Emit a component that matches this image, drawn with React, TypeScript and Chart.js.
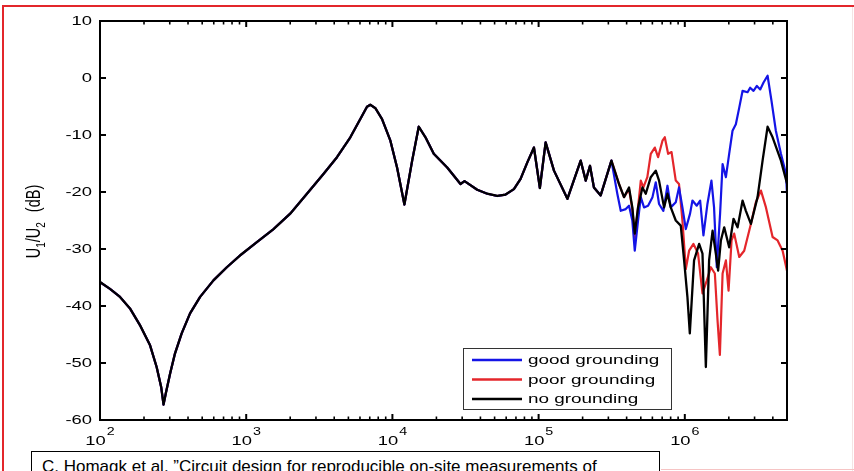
import React, { useEffect, useRef } from "react";
import { Chart, registerables } from "chart.js";

Chart.register(...registerables);

// Frequency response U1/U2 (dB) versus frequency (Hz)
const X_MIN = 100;
const X_MAX = 5e6;
const Y_MIN = -60;
const Y_MAX = 10;
const yTickValues = [10, 0, -10, -20, -30, -40, -50, -60];
const decadeExponents = [2, 3, 4, 5, 6];

// Part of the response that is identical for all three set-ups
const commonFreq = [
  100, 117, 137, 161, 188, 220, 244, 262, 272, 282, 302, 326, 362, 413, 484, 597, 737, 910, 1183, 1538, 2000,
  2603, 3386, 4178, 5155, 6033, 6703, 7066, 7650, 8495, 9686, 10760, 12080, 13650, 15140, 16830, 19180,
  23700, 29220, 31140, 38040, 44570, 52120, 59400, 67780, 75300, 83730, 92940, 102000, 111700, 127400,
  157400, 194000, 210000, 224600, 239000, 265800, 314800,
];
const commonDb = [
  -35.8, -37.0, -38.4, -40.5, -43.4, -46.9, -50.7, -54.2, -57.3, -55.3, -51.8, -48.3, -44.8, -41.3, -38.4,
  -35.5, -33.2, -31.1, -28.8, -26.5, -23.8, -20.3, -16.8, -13.9, -10.4, -7.2, -5.05, -4.7, -5.3, -7.2, -11.0,
  -15.7, -22.2, -14.5, -8.55, -10.4, -13.3, -15.7, -18.6, -18.1, -19.6, -20.3, -20.7, -20.45, -19.5, -17.7,
  -14.8, -12.2, -19.3, -11.3, -16.25, -21.2, -14.5, -18.0, -15.4, -19.2, -20.6, -14.5,
];

// good grounding, high-frequency part
const goodFreq = [
  345400, 364600, 394500, 415300, 437600, 454700, 478900, 500000, 526000, 560700, 600900, 632900, 666500,
  713400, 760800, 801600, 867300, 912700, 963000, 1016000, 1086000, 1128000, 1207000, 1273000, 1341000,
  1428000, 1521000, 1585000, 1655000, 1743000, 1813000, 1910000, 2011000, 2120000, 2234000, 2357000,
  2484000, 2687000, 2798000, 2951000, 3111000, 3280000, 3455000, 3683000, 3917000, 4195000, 4545000,
  4920000, 5000000,
];
const goodDb = [
  -20.3, -23.3, -23.0, -22.4, -25.0, -30.3, -25.0, -20.9, -22.7, -22.4, -20.9, -18.3, -22.1, -23.3, -18.9,
  -22.7, -21.8, -19.2, -22.7, -26.5, -23.8, -21.5, -22.4, -21.5, -27.6, -22.1, -18.0, -22.7, -33.2, -23.8,
  -15.1, -17.4, -13.3, -9.25, -8.1, -5.2, -2.25, -2.5, -1.7, -2.25, -1.4, -2.0, -0.8, 0.4, -4.0, -9.25,
  -13.3, -16.8, -20.3,
];

// poor grounding, high-frequency part
const poorFreq = [
  354800, 383900, 415300, 437600, 454700, 478900, 500000, 520500, 554200, 584900, 623700, 656700, 703400,
  729500, 768600, 811500, 867300, 912700, 963000, 1016000, 1070000, 1146000, 1232000, 1321000, 1415000,
  1508000, 1605000, 1674000, 1737000, 1813000, 1910000, 1992000, 2088000, 2177000, 2357000, 2548000,
  2831000, 3062000, 3317000, 3589000, 3985000, 4312000, 4666000, 5000000,
];
const poorDb = [
  -18.6, -20.9, -19.5, -23.0, -28.0, -22.7, -18.0, -19.2, -17.4, -13.3, -12.2, -13.9, -11.0, -10.4, -13.3,
  -13.0, -18.0, -18.6, -25.0, -33.5, -30.3, -29.1, -30.8, -37.8, -35.5, -33.2, -34.3, -42.5, -48.6, -34.3,
  -32.0, -37.3, -28.5, -27.3, -31.4, -30.3, -25.6, -21.8, -19.75, -22.7, -27.9, -28.5, -30.3, -33.8,
];

// no grounding, high-frequency part
const noneFreq = [
  354800, 383900, 415300, 437600, 454700, 478900, 513100, 540600, 584900, 632900, 666500, 721100, 760800,
  801600, 867300, 938400, 989100, 1042000, 1082000, 1157000, 1253000, 1321000, 1393000, 1466000, 1548000,
  1630000, 1690000, 1765000, 1860000, 2011000, 2154000, 2296000, 2484000, 2616000, 2831000, 3145000,
  3404000, 3683000, 3985000, 4545000, 5000000,
];
const noneDb = [
  -18.6, -20.9, -19.2, -22.7, -27.3, -22.7, -19.2, -20.3, -17.4, -16.25, -18.0, -22.7, -20.3, -22.7, -25.0,
  -25.9, -32.0, -38.4, -44.8, -32.0, -29.1, -30.8, -50.7, -32.0, -26.8, -30.8, -33.8, -28.5, -26.2, -29.7,
  -24.7, -26.2, -21.5, -23.3, -25.6, -20.9, -14.5, -8.55, -10.4, -14.5, -18.5,
];

const seriesNames = ["good grounding", "poor grounding", "no grounding"];
const seriesColors = ["#1414e6", "#e4262b", "#000000"];

const FONT = "Arial, 'Liberation Sans', Helvetica, sans-serif";
const SX = 1.36; // horizontal widening of the figure lettering

const toPoints = (f: number[], d: number[]) => f.map((v, i) => ({ x: v, y: d[i] }));

function stretchedText(ctx: CanvasRenderingContext2D, text: string, x: number, y: number, sx: number) {
  ctx.save();
  ctx.translate(x, y);
  ctx.scale(sx, 1);
  ctx.fillText(text, 0, 0);
  ctx.restore();
}

const figurePlugin = {
  id: "matlabFrame",
  afterDatasetsDraw(chart: any) {
    const { ctx, chartArea: a, scales } = chart;
    const xs = scales.x;
    const ys = scales.y;
    const seg = (x1: number, y1: number, x2: number, y2: number) => {
      ctx.beginPath();
      ctx.moveTo(x1, y1);
      ctx.lineTo(x2, y2);
      ctx.stroke();
    };
    ctx.save();
    ctx.strokeStyle = "#000";
    ctx.fillStyle = "#000";

    // y ticks (inward, both sides) and labels
    ctx.lineWidth = 2;
    ctx.font = `13.5px ${FONT}`;
    ctx.textAlign = "right";
    ctx.textBaseline = "middle";
    for (const v of yTickValues) {
      const py = ys.getPixelForValue(v);
      seg(a.left, py, a.left + 6, py);
      seg(a.right, py, a.right - 6, py);
      stretchedText(ctx, String(v), a.left - 8, py, SX);
    }

    // x ticks: decades and minor ticks on log axis, top and bottom
    for (let e = 2; e <= 6; e++) {
      for (let m = 1; m <= 9; m++) {
        const f = m * Math.pow(10, e);
        if (f > X_MAX) break;
        const px = xs.getPixelForValue(f);
        const len = m === 1 ? 6 : 3.5;
        ctx.lineWidth = m === 1 ? 2 : 1.6;
        seg(px, a.bottom, px, a.bottom - len);
        seg(px, a.top, px, a.top + len);
      }
    }

    // decade labels 10^k
    ctx.textAlign = "left";
    ctx.textBaseline = "alphabetic";
    for (const e of decadeExponents) {
      const px = xs.getPixelForValue(Math.pow(10, e));
      ctx.font = `13.5px ${FONT}`;
      const wBase = ctx.measureText("10").width * SX;
      ctx.font = `10.5px ${FONT}`;
      const wExp = ctx.measureText(String(e)).width * SX;
      const start = px - (wBase + 1 + wExp) / 2;
      ctx.font = `13.5px ${FONT}`;
      stretchedText(ctx, "10", start, 445, SX);
      ctx.font = `10.5px ${FONT}`;
      stretchedText(ctx, String(e), start + wBase + 1, 435, SX);
    }

    // axis box
    ctx.lineWidth = 2;
    ctx.strokeRect(a.left, a.top, a.right - a.left, a.bottom - a.top);

    // y axis title: U1/U2 (dB)
    ctx.save();
    ctx.translate(35, (a.top + a.bottom) / 2 + 1);
    ctx.rotate(-Math.PI / 2);
    ctx.scale(1, SX);
    ctx.textBaseline = "middle";
    const main = `14.5px ${FONT}`;
    const sub = `10px ${FONT}`;
    const parts: [string, string, number][] = [
      ["U", main, 0],
      ["1", sub, 4.5],
      ["/U", main, 0],
      ["2", sub, 4.5],
    ];
    let w1 = 0;
    for (const [t, f] of parts) {
      ctx.font = f;
      w1 += ctx.measureText(t).width;
    }
    ctx.font = main;
    const wDb = ctx.measureText("(dB)").width;
    const gap = 10;
    let cx = -(w1 + gap + wDb) / 2;
    for (const [t, f, dy] of parts) {
      ctx.font = f;
      ctx.fillText(t, cx, dy);
      cx += ctx.measureText(t).width;
    }
    ctx.font = main;
    ctx.fillText("(dB)", cx + gap, 0);
    ctx.restore();

    // legend box inside the axes
    const lx = 463.5;
    const ly = 348.5;
    const lw = 208;
    const lh = 61;
    ctx.fillStyle = "#fff";
    ctx.fillRect(lx, ly, lw, lh);
    ctx.strokeStyle = "#333";
    ctx.lineWidth = 1;
    ctx.strokeRect(lx, ly, lw, lh);
    ctx.font = `13.5px ${FONT}`;
    ctx.textAlign = "left";
    ctx.textBaseline = "middle";
    seriesNames.forEach((name, i) => {
      const ry = 360 + i * 19.5;
      ctx.strokeStyle = seriesColors[i];
      ctx.lineWidth = 2.5;
      seg(472, ry, 522, ry);
      ctx.fillStyle = "#000";
      stretchedText(ctx, name, 528, ry + 0.5, 1.4);
    });

    ctx.restore();
  },
};

export default function App() {
  const canvasRef = useRef<HTMLCanvasElement>(null);

  useEffect(() => {
    document.body.style.margin = "0";
    const canvas = canvasRef.current;
    if (!canvas) return;
    const chart = new Chart(canvas, {
      type: "line",
      data: {
        datasets: [
          {
            label: seriesNames[2],
            data: toPoints(commonFreq.concat(noneFreq), commonDb.concat(noneDb)),
            borderColor: seriesColors[2],
            borderWidth: 2.3,
            order: 0,
          },
          {
            label: seriesNames[0],
            data: toPoints(commonFreq.concat(goodFreq), commonDb.concat(goodDb)),
            borderColor: seriesColors[0],
            borderWidth: 2.2,
            order: 1,
          },
          {
            label: seriesNames[1],
            data: toPoints(commonFreq.concat(poorFreq), commonDb.concat(poorDb)),
            borderColor: seriesColors[1],
            borderWidth: 2.2,
            order: 2,
          },
        ],
      },
      options: {
        animation: false,
        responsive: false,
        devicePixelRatio: 1,
        layout: { padding: { left: 100, top: 21, right: 67, bottom: 51 } },
        scales: {
          x: { type: "logarithmic", min: X_MIN, max: X_MAX, display: false },
          y: { type: "linear", min: Y_MIN, max: Y_MAX, display: false },
        },
        elements: {
          point: { radius: 0 },
          line: { tension: 0, borderJoinStyle: "round", borderCapStyle: "round" },
        },
        plugins: { legend: { display: false }, tooltip: { enabled: false } },
      },
      plugins: [figurePlugin],
    });
    return () => chart.destroy();
  }, []);

  return (
    <div
      style={{
        position: "fixed",
        left: 0,
        top: 0,
        width: 854,
        height: 471,
        overflow: "hidden",
        background: "#fff",
      }}
    >
      <canvas ref={canvasRef} width={854} height={471} style={{ position: "absolute", left: 0, top: 0 }} />
      <div style={{ position: "absolute", left: 3, top: 5, width: 851, height: 2, background: "#e3262b" }} />
      <div style={{ position: "absolute", left: 2, top: 5, width: 2, height: 466, background: "#e3262b" }} />
      <div style={{ position: "absolute", left: 852, top: 7, width: 1, height: 464, background: "#f4e4e4" }} />
      <div style={{ position: "absolute", left: 661, top: 469, width: 193, height: 1, background: "#f6c4c4" }} />
      <div
        style={{
          position: "absolute",
          left: 31,
          top: 451,
          width: 629,
          height: 40,
          border: "1px solid #000",
          background: "#fff",
          boxSizing: "border-box",
        }}
      >
        <span
          style={{
            position: "absolute",
            left: 10,
            top: 6,
            fontFamily: FONT,
            fontSize: 17,
            lineHeight: "17px",
            whiteSpace: "nowrap",
            color: "#000",
          }}
        >
          C. Homagk et al. ”Circuit design for reproducible on-site measurements of
        </span>
      </div>
    </div>
  );
}
